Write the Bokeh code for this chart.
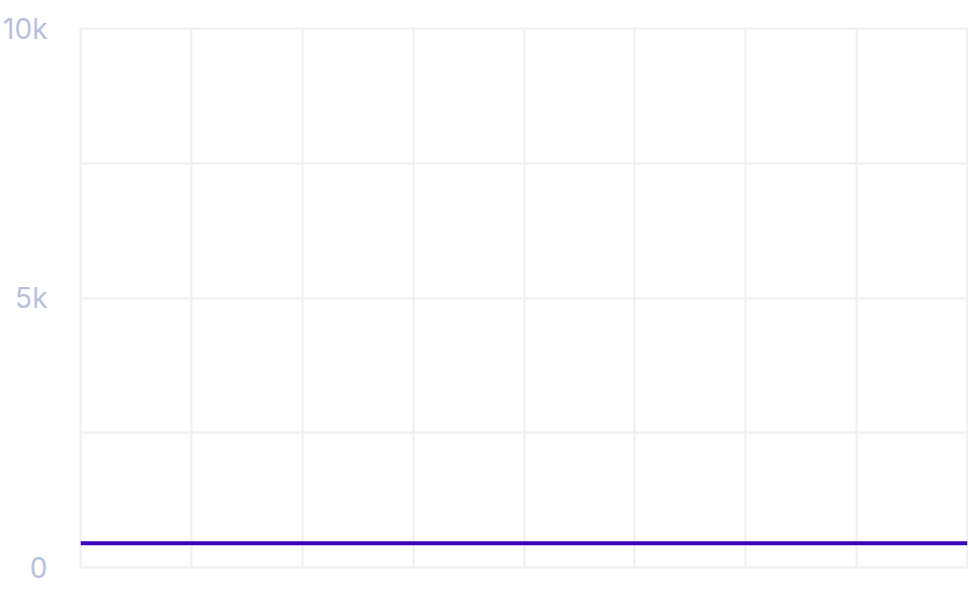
from bokeh.plotting import figure
from bokeh.models import FixedTicker, Range1d
from bokeh.embed import file_html
from bokeh.resources import INLINE

# data
x_points = [0, 1, 2, 3, 4, 5, 6, 7, 8]
y_values = [450, 450, 450, 450, 450, 450, 450, 450, 450]
y_ticks = [0, 5000, 10000]
y_tick_labels = ["0", "5k", "10k"]
y_grid_ticks = [2500, 5000, 7500]
x_grid_ticks = [1, 2, 3, 4, 5, 6, 7]

p = figure(width=968, height=586, output_backend="svg", toolbar_location=None,
           x_range=Range1d(0, 8), y_range=Range1d(0, 10000),
           min_border_left=80, min_border_right=1, min_border_top=28, min_border_bottom=19)

p.line(x_points, y_values, line_color="#3b02b6", line_width=4)

grid_color = "#eeeef4"
p.outline_line_color = grid_color
p.outline_line_width = 2
p.xgrid.ticker = FixedTicker(ticks=x_grid_ticks)
p.ygrid.ticker = FixedTicker(ticks=y_grid_ticks)
p.xgrid.grid_line_color = grid_color
p.ygrid.grid_line_color = grid_color
p.xgrid.grid_line_width = 2
p.ygrid.grid_line_width = 2

p.xaxis.visible = False
ax = p.yaxis[0]
ax.ticker = FixedTicker(ticks=y_ticks)
ax.major_label_overrides = {t: l for t, l in zip(y_ticks, y_tick_labels)}
ax.axis_line_color = None
ax.major_tick_line_color = None
ax.minor_tick_line_color = None
ax.major_label_text_font = "Inter"
ax.major_label_text_font_size = "28px"
ax.major_label_text_color = "#b7bfdb"
ax.major_label_standoff = 27

open("out.html", "w").write(file_html(p, INLINE))
